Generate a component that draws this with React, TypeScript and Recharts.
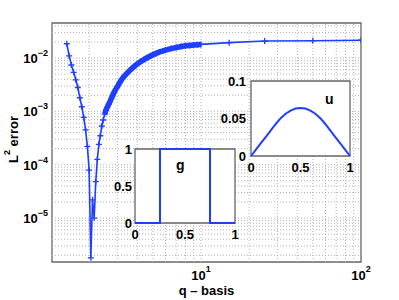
import { LineChart, Line, XAxis, YAxis, ReferenceLine, ReferenceArea, CartesianGrid } from 'recharts'

const FONT = '"Liberation Sans", Arial, Helvetica, sans-serif'
const BLUE = '#1f3fff'
const BOX = '#666'

// main plot: L2 error against number of q basis functions
const qValues = [
  1.45, 1.5, 1.55, 1.6, 1.65, 1.7, 1.75, 1.8, 1.85, 1.9, 1.95, 2.0, 2.05,
  2.1, 2.15, 2.2, 2.25, 2.3, 2.35, 2.4, 2.45, 2.5, 2.55, 2.6, 2.65, 2.7, 2.75, 2.8, 2.85, 2.9, 2.95, 3.0,
  3.1, 3.2, 3.3, 3.4, 3.5, 3.6, 3.7, 3.8, 3.9, 4.0,
  4.2, 4.4, 4.6, 4.8, 5.0,
  5.25, 5.5, 5.75, 6.0,
  6.5, 7.0, 7.5, 8.0, 8.5, 9.0, 9.5, 10,
  15, 25, 50, 100,
]
const errorValues = [
  0.0185, 0.011, 0.0074, 0.0054, 0.0039, 0.0028, 0.0018, 0.00122, 0.00077, 0.00045, 0.00022, 0.000079, 0.0000018,
  0.000022, 0.00001, 0.000048, 0.000126, 0.000241, 0.000349, 0.000531, 0.000688, 0.00089, 0.00106, 0.0012, 0.00136,
  0.00152, 0.00173, 0.00195, 0.00221, 0.00244, 0.00267, 0.00288,
  0.00344, 0.00397, 0.0045, 0.00495, 0.00544, 0.0059, 0.00635, 0.00684, 0.0073, 0.00772,
  0.00856, 0.00933, 0.0101, 0.0108, 0.0115,
  0.0122, 0.013, 0.0135, 0.0141,
  0.015, 0.0157, 0.0164, 0.0169, 0.0172, 0.0175, 0.0178, 0.018,
  0.0194, 0.0208, 0.0211, 0.0215,
]
const xTicks = [10, 100]
const yTicks = [1e-5, 1e-4, 1e-3, 1e-2]
const xDomain = [1.172, 100]
const yDomain = [1.5e-6, 0.0453]
const gridMultipliers = [1, 2, 3, 4, 5, 6, 7, 8, 9]
const xGridDecades = [1, 10]
const yGridDecades = [1e-6, 1e-5, 1e-4, 1e-3, 1e-2]

// inset g (source term)
const gX = [0, 0.25, 0.25, 0.75, 0.75, 1]
const gY = [0, 0, 1, 1, 0, 0]
const gTicks = [0, 0.5, 1]

// inset u (solution)
const uX = [0, 0.05, 0.1, 0.15, 0.2, 0.25, 0.3, 0.35, 0.4, 0.45, 0.5, 0.55, 0.6, 0.65, 0.7, 0.75, 0.8, 0.85, 0.9, 0.95, 1]
const uY = [0, 0.0085, 0.0171, 0.0256, 0.0342, 0.0427, 0.0504, 0.0563, 0.0606, 0.0632, 0.064,
  0.0632, 0.0606, 0.0563, 0.0504, 0.0427, 0.0342, 0.0256, 0.0171, 0.0085, 0]
const uXTicks = [0, 0.5, 1]
const uYTicks = [0, 0.05, 0.1]

const mainData = qValues.map((q, i) => ({ q, err: errorValues[i] }))
const bandData = mainData.filter((d) => d.q >= 2.5 && d.q <= 10)
const xGrid = xGridDecades.flatMap((d) => gridMultipliers.map((m) => m * d)).filter((v) => v > xDomain[0] && v < xDomain[1])
const yGrid = yGridDecades.flatMap((d) => gridMultipliers.map((m) => m * d)).filter((v) => v > yDomain[0] && v < yDomain[1])
const gData = gX.map((x, i) => ({ x, y: gY[i] }))
const uData = uX.map((x, i) => ({ x, y: uY[i] }))

const tickStyle = { fill: '#000', fontSize: 13, fontWeight: 'bold', fontFamily: FONT }

function PowerTick({ x, y, payload, axis }: any) {
  const exp = Math.round(Math.log10(payload.value))
  const label = exp < 0 ? `\u2212${-exp}` : `${exp}`
  if (axis === 'x') {
    return (
      <text x={x} y={y + 18} textAnchor="middle" {...tickStyle}>
        <tspan>10</tspan>
        <tspan dy={-8} fontSize={9}>{label}</tspan>
      </text>
    )
  }
  return (
    <text x={x} y={y + 5} textAnchor="end" {...tickStyle}>
      <tspan>10</tspan>
      <tspan dy={-7} fontSize={9}>{label}</tspan>
    </text>
  )
}

function YLabel({ viewBox }: any) {
  const cx = (viewBox?.x ?? 0) + 13
  const cy = (viewBox?.y ?? 23) + (viewBox?.height ?? 239) / 2 - 3
  return (
    <text transform={`rotate(-90 ${cx} ${cy})`} x={cx} y={cy} textAnchor="middle" dominantBaseline="central" {...tickStyle}>
      <tspan>L</tspan>
      <tspan dy={-6} fontSize={9}>2</tspan>
      <tspan dy={6}> error</tspan>
    </text>
  )
}

function Cross(props: any) {
  const { cx, cy, index } = props
  if (cx == null || cy == null) return <g key={index} />
  return <path key={index} d={`M${cx - 3},${cy}h6M${cx},${cy - 3}v6`} stroke={BLUE} strokeWidth={1.3} fill="none" />
}

function InsetLabel({ text, left, top }: { text: string; left: number; top: number }) {
  return (
    <div style={{ position: 'absolute', left, top, fontFamily: FONT, fontWeight: 'bold', fontSize: 14, lineHeight: '14px' }}>
      {text}
    </div>
  )
}

export default function App() {
  return (
    <div style={{ position: 'absolute', left: 0, top: 0, width: 399, height: 300, background: '#fff' }}>
      <LineChart width={399} height={300} data={mainData} margin={{ top: 23, right: 38, bottom: 0, left: 0 }}>
        <XAxis
          dataKey="q"
          type="number"
          scale="log"
          domain={xDomain}
          allowDataOverflow
          ticks={xTicks}
          tick={<PowerTick axis="x" />}
          tickLine={false}
          axisLine={false}
          tickSize={0}
          tickMargin={0}
          height={38}
          label={{ value: 'q \u2013 basis', position: 'insideBottom', offset: 5, ...tickStyle }}
        />
        <YAxis
          type="number"
          scale="log"
          domain={yDomain}
          allowDataOverflow
          ticks={yTicks}
          tick={<PowerTick axis="y" />}
          tickLine={false}
          axisLine={false}
          tickSize={0}
          tickMargin={4}
          width={52}
          label={<YLabel />}
        />
        {xGrid.map((v) => (
          <ReferenceLine key={`gx-${v}`} x={v} stroke="#b4b4b4" strokeDasharray="1 2" />
        ))}
        {yGrid.map((v) => (
          <ReferenceLine key={`gy-${v}`} y={v} stroke="#b4b4b4" strokeDasharray="1 2" />
        ))}
        <ReferenceArea x1={xDomain[0]} x2={xDomain[1]} y1={yDomain[0]} y2={yDomain[1]} fill="none" stroke={BOX} strokeWidth={1.3} />
        <Line data={bandData} dataKey="err" stroke={BLUE} strokeWidth={5.5} dot={false} isAnimationActive={false} />
        <Line dataKey="err" stroke={BLUE} strokeWidth={1.6} dot={<Cross />} isAnimationActive={false} />
      </LineChart>

      <div style={{ position: 'absolute', left: 100, top: 140 }}>
        <LineChart width={145} height={105} data={gData} margin={{ top: 9, right: 10, bottom: 0, left: 0 }}>
          <CartesianGrid fill="#fff" stroke="none" />
          <XAxis dataKey="x" type="number" domain={[0, 1]} ticks={gTicks} tick={tickStyle} tickLine={false} axisLine={false} tickSize={0} tickMargin={7} height={22} />
          <YAxis type="number" domain={[0, 1]} ticks={gTicks} tick={tickStyle} tickLine={false} axisLine={false} tickSize={0} tickMargin={3} width={35} />
          <ReferenceArea x1={0} x2={1} y1={0} y2={1} fill="none" stroke={BOX} strokeWidth={1.3} />
          <Line dataKey="y" stroke={BLUE} strokeWidth={2} dot={false} isAnimationActive={false} />
        </LineChart>
      </div>
      <InsetLabel text="g" left={176} top={158} />

      <div style={{ position: 'absolute', left: 215, top: 72 }}>
        <LineChart width={145} height={106} data={uData} margin={{ top: 9, right: 10, bottom: 0, left: 0 }}>
          <CartesianGrid fill="#fff" stroke="none" />
          <XAxis dataKey="x" type="number" domain={[0, 1]} ticks={uXTicks} tick={tickStyle} tickLine={false} axisLine={false} tickSize={0} tickMargin={7} height={22} />
          <YAxis type="number" domain={[0, 0.1]} ticks={uYTicks} tick={tickStyle} tickLine={false} axisLine={false} tickSize={0} tickMargin={5} width={36} />
          <ReferenceArea x1={0} x2={1} y1={0} y2={0.1} fill="none" stroke={BOX} strokeWidth={1.3} />
          <Line dataKey="y" stroke={BLUE} strokeWidth={2} dot={false} isAnimationActive={false} />
        </LineChart>
      </div>
      <InsetLabel text="u" left={325} top={92} />
    </div>
  )
}
